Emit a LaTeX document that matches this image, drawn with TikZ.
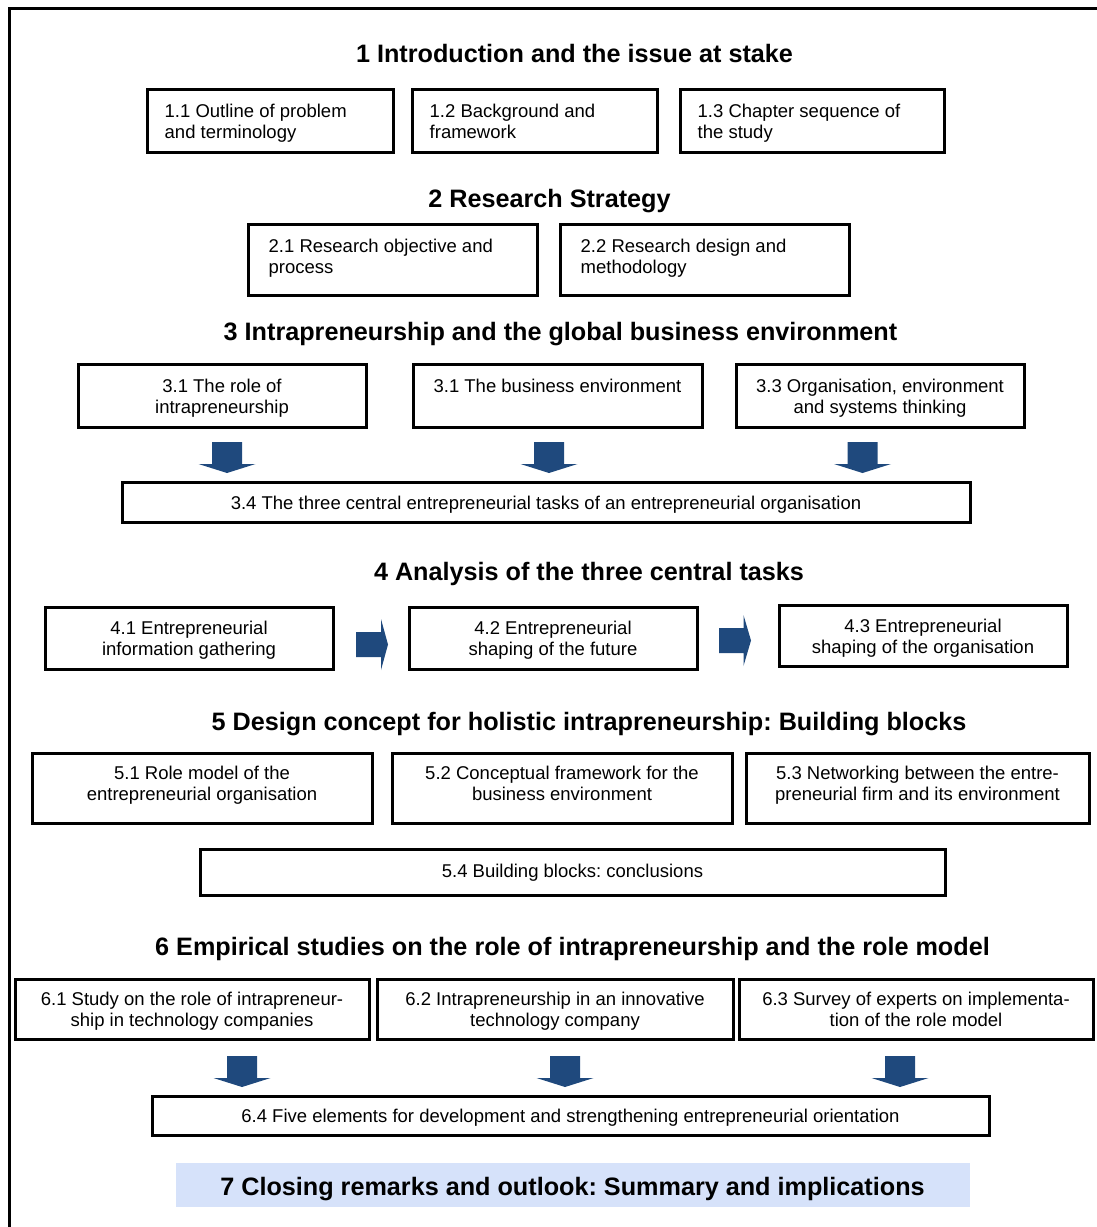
\documentclass[tikz,border=0pt]{standalone}
\usepackage{fontspec}
\setmainfont{Liberation Sans}
\frenchspacing
\usetikzlibrary{fit}
\definecolor{arrowblue}{RGB}{31,73,125}
\definecolor{closefill}{RGB}{214,226,250}
\tikzset{
  box/.style={draw=black, line width=3pt, inner sep=0pt},
  boxtxt/.style={anchor=north, inner sep=0pt, font=\fontsize{18.5}{21}\selectfont, align=center},
  boxtxtl/.style={anchor=north west, inner sep=0pt, font=\fontsize{18.5}{21}\selectfont, align=left},
  title/.style={anchor=base, inner sep=0pt, font=\fontsize{25.2}{30}\selectfont\bfseries},
  blockarrow/.style={fill=arrowblue, draw=none},
  frame/.style={line width=3pt, draw=black}
}
% centred-text box: [text offset], name, x1, y1, x2, y2, text
\newcommand\cbox[7][16]{%
  \node[box, fit={(#3,#4) (#5,#6)}] (#2) {};
  \node[boxtxt] (#2t) at ([yshift=-#1pt]#2.north) {#7};}
% left-aligned-text box: [left padding], name, x1, y1, x2, y2, text
\newcommand\lbox[7][19]{%
  \node[box, fit={(#3,#4) (#5,#6)}] (#2) {};
  \node[boxtxtl] (#2t) at ([xshift=#1pt,yshift=-16pt]#2.north west) {#7};}
% down arrow: centre x, shaft top, head start, tip
\newcommand\darrow[4]{%
  \fill[blockarrow] (#1-15,#2) -- (#1+15,#2) -- (#1+15,#3) -- (#1+28.5,#3) -- (#1,#4) -- (#1-28.5,#3) -- (#1-15,#3) -- cycle;}
% right arrow: shaft left x, head start x, tip x, centre y
\newcommand\rarrow[4]{%
  \fill[blockarrow] (#1,#4-12.5) -- (#2,#4-12.5) -- (#2,#4-25.5) -- (#3,#4) -- (#2,#4+25.5) -- (#2,#4+12.5) -- (#1,#4+12.5) -- cycle;}
\begin{document}
\begin{tikzpicture}[x=1pt, y=-1pt]
\useasboundingbox (0,0) rectangle (1096,1227);
% outer frame (cut off right and bottom)
\draw[frame] (9,1230) -- (9,8) -- (1100,8);

% Section 1
\node[title] (t1) at (574.5,62) {1 Introduction and the issue at stake};
\lbox{b11}{147}{89}{393}{152}{1.1 Outline of problem\\and terminology}
\lbox{b12}{412}{89}{657}{152}{1.2 Background and\\framework}
\lbox{b13}{680}{89}{944}{152}{1.3 Chapter sequence of\\the study}

% Section 2
\node[title] (t2) at (549.5,207) {2 Research Strategy};
\lbox[22]{b21}{248}{224}{537}{295}{2.1 Research objective and\\process}
\lbox[22]{b22}{560}{224}{849}{295}{2.2 Research design and\\methodology}

% Section 3
\node[title] (t3) at (560.5,340) {3 Intrapreneurship and the global business environment};
\cbox{b31}{78}{364}{366}{427}{3.1 The role of\\intrapreneurship}
\cbox{b32}{413}{364}{702}{427}{3.1 The business environment}
\cbox{b33}{736}{364}{1024}{427}{3.3 Organisation, environment\\and systems thinking}
\darrow{227}{442}{464}{473}
\darrow{549}{442}{464}{473}
\darrow{862.5}{442}{464}{473}
\cbox[15]{b34}{122}{482}{970}{522}{3.4 The three central entrepreneurial tasks of an entrepreneurial organisation}

% Section 4
\node[title] (t4) at (589,580) {4 Analysis of the three central tasks};
\cbox[15]{b41}{45}{607}{333}{669}{4.1 Entrepreneurial\\information gathering}
\cbox[15]{b42}{409}{607}{697}{669}{4.2 Entrepreneurial\\shaping of the future}
\cbox[15]{b43}{779}{605}{1067}{666}{4.3 Entrepreneurial\\shaping of the organisation}
\rarrow{356}{381}{388}{644.5}
\rarrow{719}{743.5}{751}{640.5}

% Section 5
\node[title] (t5) at (589,730) {5 Design concept for holistic intrapreneurship: Building blocks};
\cbox[14]{b51}{32}{753}{372}{823}{5.1 Role model of the\\entrepreneurial organisation}
\cbox[14]{b52}{392}{753}{732}{823}{5.2 Conceptual framework for the\\business environment}
\cbox[14]{b53}{746}{753}{1089}{823}{5.3 Networking between the entre-\\preneurial firm and its environment}
\cbox{b54}{200}{849}{945}{895}{5.4 Building blocks: conclusions}

% Section 6
\node[title] (t6) at (572.5,955) {6 Empirical studies on the role of intrapreneurship and the role model};
\cbox[14]{b61}{15}{979}{369}{1039}{6.1 Study on the role of intrapreneur-\\ship in technology companies}
\cbox[14]{b62}{377}{979}{733}{1039}{6.2 Intrapreneurship in an innovative\\technology company}
\cbox[14]{b63}{739}{979}{1093}{1039}{6.3 Survey of experts on implementa-\\tion of the role model}
\darrow{242}{1056}{1078}{1087}
\darrow{565}{1056}{1078}{1087}
\darrow{900}{1056}{1078}{1087}
\cbox[14]{b64}{152}{1096}{989}{1135}{6.4 Five elements for development and strengthening entrepreneurial orientation}

% Section 7
\node[fill=closefill, inner sep=0pt, fit={(176,1163) (970,1207)}] (b7) {};
\node[title] (t7) at (572.5,1195) {7 Closing remarks and outlook: Summary and implications};
\end{tikzpicture}
\end{document}
